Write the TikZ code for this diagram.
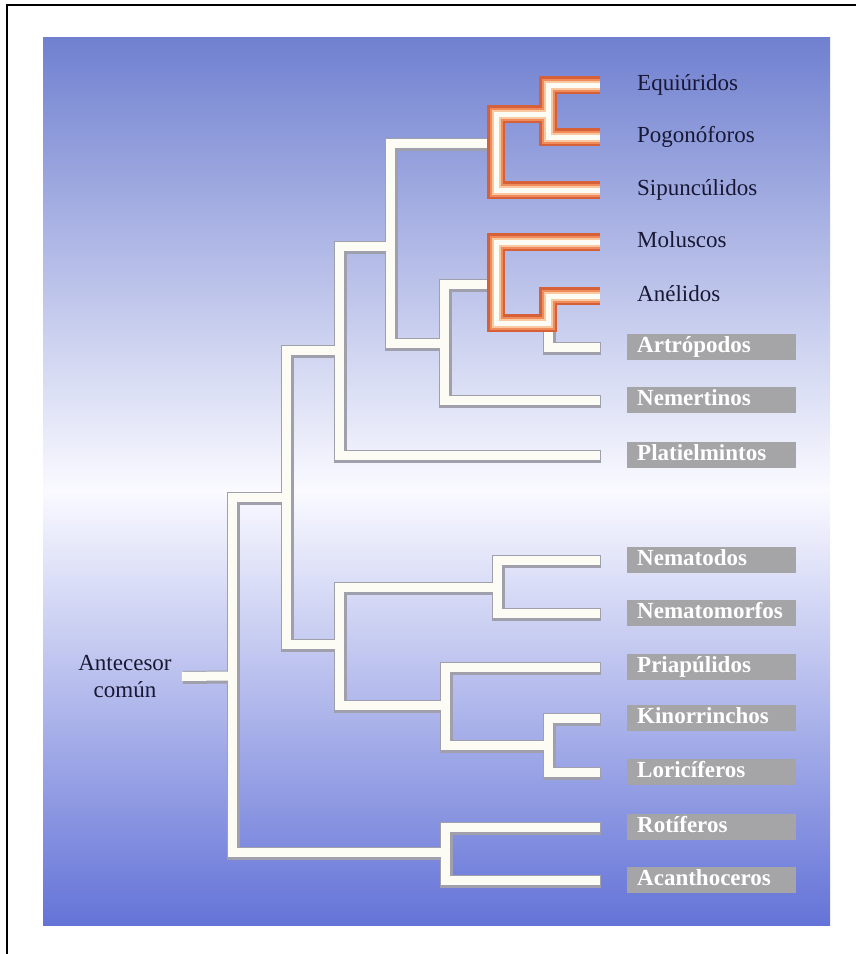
\documentclass[tikz,border=0pt]{standalone}
\usepackage{fontspec}
\setmainfont{Liberation Serif}
\usetikzlibrary{positioning}

\definecolor{bgtop}{RGB}{112,128,208}
\definecolor{bgmidtop}{RGB}{150,161,220}
\definecolor{bgwhite}{RGB}{250,250,255}
\definecolor{bgmidbot}{RGB}{182,186,238}
\definecolor{bgbot}{RGB}{100,115,215}
\definecolor{brgray}{RGB}{160,160,172}
\definecolor{brcream}{RGB}{252,252,244}
\definecolor{brorange}{RGB}{214,96,56}
\definecolor{brmid}{RGB}{240,140,92}
\definecolor{brpeach}{RGB}{250,200,160}
\definecolor{boxgray}{RGB}{165,165,168}
\definecolor{labelink}{RGB}{24,24,52}

\tikzset{
  taxon/.style={anchor=west, inner xsep=10pt, inner ysep=0pt, text height=15pt, text depth=4pt,
    font=\fontsize{23}{25}\selectfont, text=labelink},
  greytaxon/.style={taxon, fill=boxgray, text=white, font=\bfseries\fontsize{23}{25}\selectfont,
    text width=149pt, inner ysep=3.5pt},
}

\begin{document}
\begin{tikzpicture}[x=1pt,y=-1pt]
  \useasboundingbox (0,0) rectangle (856,954);
  % frame and background
  \draw[line width=2pt] (7,954) -- (7,5) -- (856,5);
  \shade[top color=bgtop, middle color=bgmidtop, bottom color=bgwhite] (43,37) rectangle (830,490);
  \shade[top color=bgwhite, middle color=bgmidbot, bottom color=bgbot] (43,490) rectangle (830,925);

  % branch points
  \coordinate (root) at (232,676);
  \coordinate (A) at (286,497);
  \coordinate (B) at (339,350);
  \coordinate (C) at (390,246);
  \coordinate (D) at (496,143);
  \coordinate (H) at (548,114);
  \coordinate (E) at (444,343);
  \coordinate (F) at (496,284);
  \coordinate (G) at (548,323);
  \coordinate (N) at (339,644);
  \coordinate (P) at (497,587);
  \coordinate (Q) at (445,705);
  \coordinate (K) at (548,745);
  \coordinate (R) at (445,852);

  % tips and taxa
  \coordinate (tequi) at (600,85);
  \coordinate (tpogo) at (600,137);
  \coordinate (tsip) at (600,190);
  \coordinate (tmol) at (600,242);
  \coordinate (tanel) at (600,296);
  \coordinate (tartr) at (600,347);
  \coordinate (tnem) at (600,400);
  \coordinate (tplat) at (600,455);
  \coordinate (tnemat) at (600,560);
  \coordinate (tnemmor) at (600,613);
  \coordinate (tpriap) at (600,667);
  \coordinate (tkino) at (600,718);
  \coordinate (tlori) at (600,772);
  \coordinate (troti) at (600,827);
  \coordinate (tacan) at (600,880);

  \node[taxon, right=27pt of tequi] (equi) {Equiúridos};
  \node[taxon, right=27pt of tpogo] (pogo) {Pogonóforos};
  \node[taxon, right=27pt of tsip] (sip) {Sipuncúlidos};
  \node[taxon, right=27pt of tmol] (mol) {Moluscos};
  \node[taxon, right=27pt of tanel] (anel) {Anélidos};
  \node[greytaxon, right=27pt of tartr] (artr) {Artrópodos};
  \node[greytaxon, right=27pt of tnem] (nem) {Nemertinos};
  \node[greytaxon, right=27pt of tplat] (plat) {Platielmintos};
  \node[greytaxon, right=27pt of tnemat] (nemat) {Nematodos};
  \node[greytaxon, right=27pt of tnemmor] (nemmor) {Nematomorfos};
  \node[greytaxon, right=27pt of tpriap] (priap) {Priapúlidos};
  \node[greytaxon, right=27pt of tkino] (kino) {Kinorrinchos};
  \node[greytaxon, right=27pt of tlori] (lori) {Loricíferos};
  \node[greytaxon, right=27pt of troti] (roti) {Rotíferos};
  \node[greytaxon, right=27pt of tacan] (acan) {Acanthoceros};

  \node[font=\fontsize{23}{27}\selectfont, align=center, text=labelink, inner xsep=10pt] (anc) at (125,677) {Antecesor\\común};

  % white branches, shadow first
  \foreach \lw/\col/\dx in {13pt/brgray/1pt, 9pt/brcream/0pt}{
    \draw[line width=\lw, draw=\col, transform canvas={xshift=\dx, yshift=-\dx}] (anc) -- (root);
    \foreach \u/\v in {root/A, root/R, A/B, A/N, B/C, B/tplat, C/D, C/E, E/F, E/tnem, G/tartr,
        N/P, N/Q, P/tnemat, P/tnemmor, Q/tpriap, Q/K, K/tkino, K/tlori, R/troti, R/tacan}
      \draw[line width=\lw, draw=\col, transform canvas={xshift=\dx, yshift=-\dx}] (\u) |- (\v);
  }

  % orange branches
  \foreach \lw/\col in {18pt/brorange, 13pt/brmid, 9pt/brpeach, 5pt/brcream}
    \draw[line width=\lw, draw=\col] (tequi) -| (H) |- (tpogo) (tsip) -| (D) |- (H)
      (tmol) -| (F) |- (G) |- (tanel);
\end{tikzpicture}
\end{document}
